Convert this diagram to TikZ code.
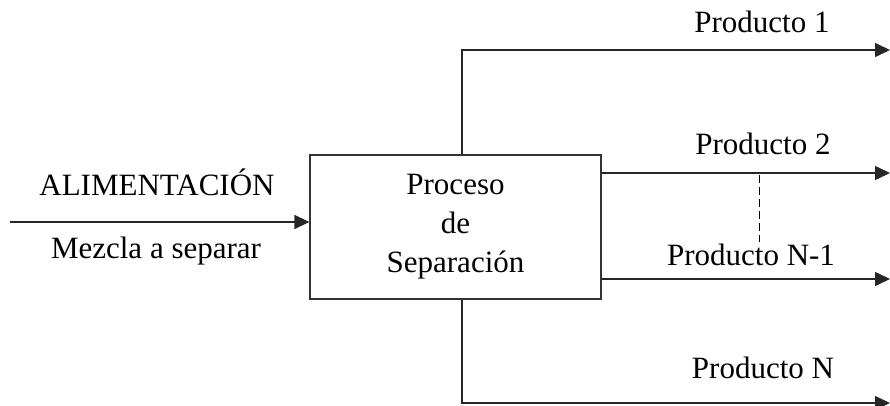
\documentclass[tikz,border=0pt]{standalone}
\usepackage{fontspec}
\setmainfont{Liberation Serif}
\usetikzlibrary{arrows.meta}
\begin{document}
\begin{tikzpicture}[x=1pt,y=-1pt,
  every node/.style={font=\fontsize{31}{39}\selectfont},
  flow/.style={line width=1.4pt,draw=black!85},
  flowarrow/.style={flow,-{Triangle[length=15pt,width=14pt]}},
  label/.style={anchor=base,inner sep=0pt},
  processbox/.style={draw=black!80,line width=1.3pt,minimum width=291pt,minimum height=144pt,inner sep=0pt,align=center}]
  \useasboundingbox (0,0) rectangle (890,406);
  % separation process block
  \node[processbox] (proc) at (455.5,227) {Proceso\\de\\Separación};
  % feed stream
  \coordinate (feed) at (10,222);
  \draw[flowarrow] (feed) -- (feed -| proc.west);
  \node[label] (alim) at (157,195) {ALIMENTACIÓN};
  \node[label] (mezcla) at (156,258) {Mezcla a separar};
  % product streams
  \coordinate (top) at (462,50);
  \coordinate (topend) at (890,50);
  \coordinate (bot) at (462,403);
  \coordinate (botend) at (890,403);
  \coordinate (p2) at (890,173);
  \coordinate (pn1) at (890,279);
  \draw[flowarrow] (top |- proc.north) -- (top) -- (topend);
  \draw[flowarrow] (proc.east |- p2) -- (p2);
  \draw[flowarrow] (proc.east |- pn1) -- (pn1);
  \draw[flowarrow] (bot |- proc.south) -- (bot) -- (botend);
  % omitted intermediate products
  \coordinate (dtop) at (759,175);
  \coordinate (dbot) at (759,242);
  \draw[line width=1pt,dash pattern=on 8pt off 4pt] (dtop) -- (dbot);
  \node[label] (l1) at (762,33) {Producto 1};
  \node[label] (l2) at (763,155) {Producto 2};
  \node[label] (ln1) at (751,265) {Producto N-1};
  \node[label] (ln) at (763,378) {Producto N};
\end{tikzpicture}
\end{document}
